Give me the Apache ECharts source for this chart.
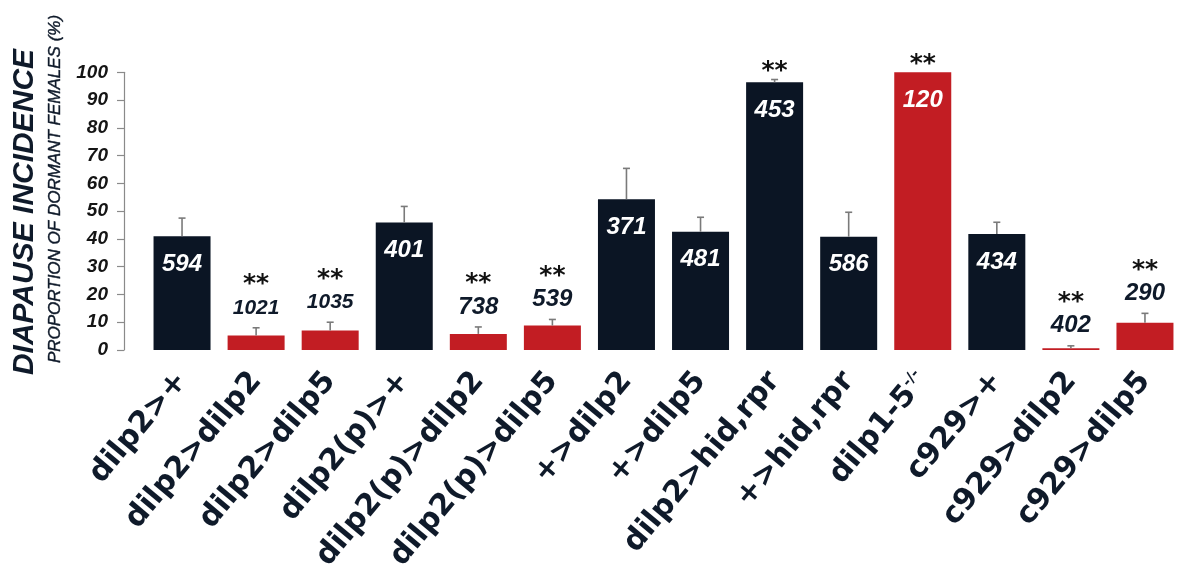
<!DOCTYPE html>
<html>
<head>
<meta charset="utf-8">
<script src="https://cdn.jsdelivr.net/npm/echarts@6/dist/echarts.min.js"></script>
<style>
  html, body { margin: 0; padding: 0; background: #ffffff; }
  #chart { width: 1182px; height: 587px; }
</style>
</head>
<body>
<div id="chart"></div>
<script>
// Genotypes along the x axis
const categories = [
  'dilp2>+', 'dilp2>dilp2', 'dilp2>dilp5', 'dilp2(p)>+', 'dilp2(p)>dilp2',
  'dilp2(p)>dilp5', '+>dilp2', '+>dilp5', 'dilp2>hid,rpr', '+>hid,rpr',
  'dilp1-5-/-', 'c929>+', 'c929>dilp2', 'c929>dilp5'
];
// Proportion of dormant females (%)
const incidence = [41.0, 5.2, 7.0, 45.9, 5.8, 8.8, 54.3, 42.6, 96.4, 40.8, 100, 41.8, 0.6, 9.8];
// Upper error (SEM, %)
const errorUp = [6.5, 2.8, 3.0, 5.8, 2.5, 2.2, 11.1, 5.2, 1.0, 8.8, 0, 4.2, 0.9, 3.4];
// Number of females scored
const sampleSize = [594, 1021, 1035, 401, 738, 539, 371, 481, 453, 586, 120, 434, 402, 290];
// ** = significant difference from controls
const significant = [0, 1, 1, 0, 1, 1, 0, 0, 1, 0, 1, 0, 1, 1];
// Insulin-overexpression / mutant groups drawn in red
const redGroup = [0, 1, 1, 0, 1, 1, 0, 0, 0, 0, 1, 0, 1, 1];
// Value axis ticks
const yTicks = { min: 0, max: 100, step: 10 };

const DARK = '#0b1524';
const RED = '#c21d23';
const INK = '#0f1a2a';
const INSIDE_MIN = 30; // bars taller than this carry their n inside

const chart = echarts.init(document.getElementById('chart'), null, { renderer: 'canvas' });

const barData = incidence.map((v, i) => ({
  value: v,
  itemStyle: { color: redGroup[i] ? RED : DARK },
  label: {
    show: v > INSIDE_MIN,
    position: 'insideTop',
    distance: 16,
    formatter: String(sampleSize[i]),
    color: '#ffffff',
    fontStyle: 'italic',
    fontWeight: 'bold',
    fontSize: 24,
    fontFamily: '"Liberation Sans", Arial, sans-serif'
  }
}));

const errData = incidence.map((v, i) => [i, v, errorUp[i], sampleSize[i], significant[i]]);

const option = {
  backgroundColor: '#ffffff',
  animation: false,
  grid: { left: 145, width: 1041, top: 72.3, bottom: 237, containLabel: false },
  graphic: [
    {
      type: 'text', x: 25, y: 212, rotation: Math.PI / 2,
      style: {
        text: 'DIAPAUSE INCIDENCE',
        font: 'italic bold 30px "Liberation Sans", Arial, sans-serif',
        fill: INK, align: 'center', verticalAlign: 'middle'
      }
    },
    {
      type: 'text', x: 55, y: 189, rotation: Math.PI / 2,
      style: {
        text: 'PROPORTION OF DORMANT FEMALES (%)',
        font: 'italic 17px "Liberation Sans", Arial, sans-serif',
        fill: INK, align: 'center', verticalAlign: 'middle',
        stroke: INK, lineWidth: 0.4
      }
    }
  ],
  xAxis: {
    type: 'category',
    data: categories,
    axisLine: { show: false },
    axisTick: { show: false },
    axisLabel: {
      interval: 0,
      rotate: 50,
      margin: 26,
      color: INK,
      fontFamily: '"DejaVu Sans", sans-serif',
      fontWeight: 'bold',
      fontSize: 30,
      formatter: (v) => v === 'dilp1-5-/-' ? '{m|dilp1-5}{s|-/-}' : v,
      rich: {
        m: { fontFamily: '"DejaVu Sans", sans-serif', fontWeight: 'bold', fontSize: 30, color: INK },
        s: { fontFamily: '"DejaVu Sans", sans-serif', fontWeight: 'bold', fontSize: 15, color: INK, verticalAlign: 'top' }
      }
    }
  },
  yAxis: {
    type: 'value',
    min: yTicks.min,
    max: yTicks.max,
    interval: yTicks.step,
    offset: 21,
    axisLine: { show: true, lineStyle: { color: '#8a8a8a', width: 1.2 } },
    axisTick: { show: true, length: 7, lineStyle: { color: '#8a8a8a', width: 1.2 } },
    axisLabel: {
      margin: 16,
      color: '#151515',
      fontStyle: 'italic',
      fontWeight: 'bold',
      fontSize: 19,
      fontFamily: '"Liberation Sans", Arial, sans-serif'
    },
    splitLine: { show: false }
  },
  series: [
    {
      type: 'bar',
      data: barData,
      barWidth: 57,
      z: 2
    },
    {
      type: 'custom',
      data: errData,
      z: 3,
      clip: false,
      renderItem: function (params, api) {
        const i = api.value(0);
        const mean = api.value(1);
        const err = api.value(2);
        const n = api.value(3);
        const sig = api.value(4);
        const base = api.coord([i, mean]);
        const top = api.coord([i, mean + err]);
        const children = [];
        if (err > 0) {
          children.push({
            type: 'line',
            shape: { x1: base[0], y1: base[1], x2: top[0], y2: top[1] },
            style: { stroke: '#7a7a7a', lineWidth: 1.6 }
          });
          children.push({
            type: 'line',
            shape: { x1: top[0] - 3.5, y1: top[1], x2: top[0] + 3.5, y2: top[1] },
            style: { stroke: '#7a7a7a', lineWidth: 1.6 }
          });
        }
        let starY;
        if (mean > INSIDE_MIN) {
          starY = top[1] - 8;
        } else {
          const numY = top[1] - 20;
          const txt = String(n);
          children.push({
            type: 'text',
            x: top[0], y: numY,
            style: {
              text: txt,
              font: 'italic bold ' + (txt.length > 3 ? 21 : 24) + 'px "Liberation Sans", Arial, sans-serif',
              fill: INK, align: 'center', verticalAlign: 'middle'
            }
          });
          starY = numY - 23;
        }
        if (sig) {
          children.push({
            type: 'text',
            x: top[0], y: starY,
            style: {
              text: '**',
              font: 'bold 25px "DejaVu Sans", sans-serif',
              fill: '#111111', align: 'center', verticalAlign: 'middle'
            }
          });
        }
        return { type: 'group', children: children };
      }
    }
  ]
};

chart.setOption(option);
</script>
</body>
</html>
